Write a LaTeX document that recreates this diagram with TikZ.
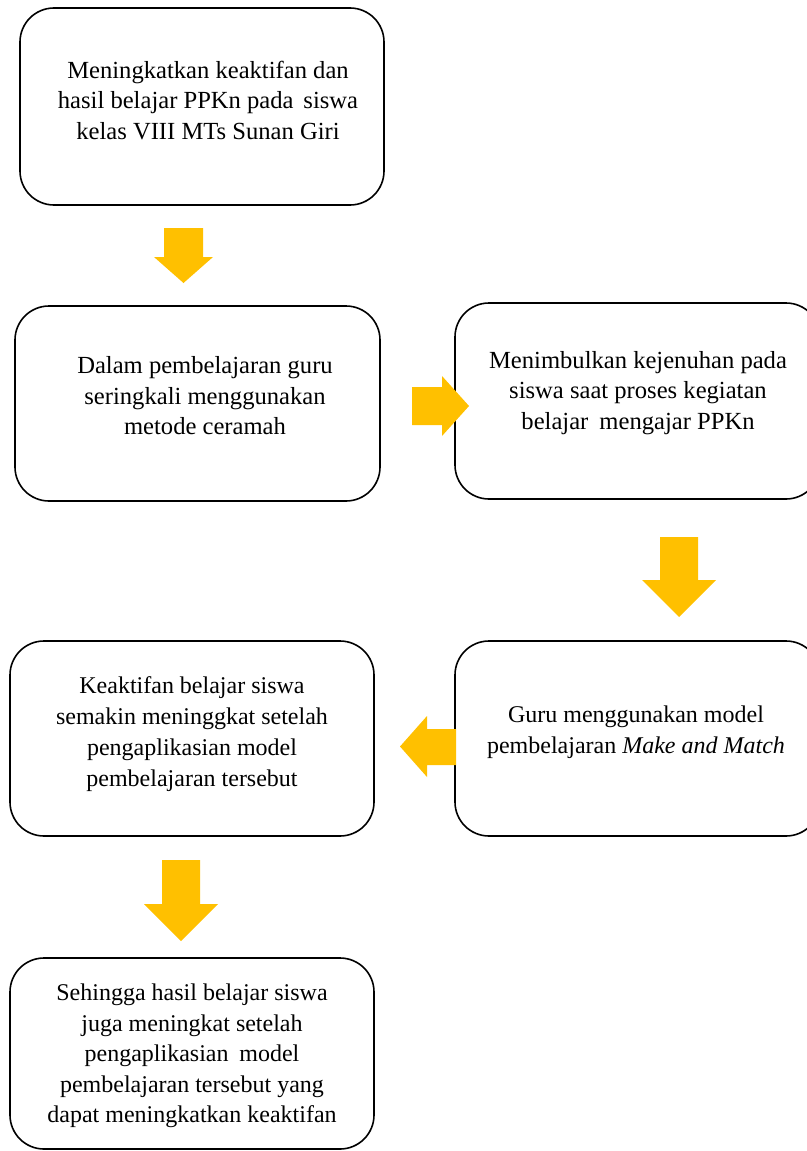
\documentclass[tikz,border=0pt]{standalone}
\usepackage{fontspec}
\setmainfont{Liberation Serif}
\definecolor{gold}{HTML}{FFC000}
\begin{document}
\begin{tikzpicture}[x=1pt,y=-1pt,
  box/.style={draw, line width=1.6pt, rounded corners=34pt, inner sep=0pt},
  txt/.style={align=center, font=\fontsize{24.6}{30.5}\selectfont, inner sep=0pt},
  txtb/.style={align=center, font=\fontsize{24}{31}\selectfont, inner sep=0pt},
  blk/.style={fill=gold, draw=none}]
\useasboundingbox (0,0) rectangle (806,1151);
% boxes
\node[box, minimum width=364pt, minimum height=197pt] (b1) at (202,106.5) {};
\node[box, minimum width=365pt, minimum height=195pt] (b2) at (197.5,403.5) {};
\node[box, minimum width=365pt, minimum height=196pt] (b3) at (637.5,401) {};
\node[box, minimum width=364pt, minimum height=195pt] (b4) at (192,738.5) {};
\node[box, minimum width=365pt, minimum height=195pt] (b5) at (637.5,738.5) {};
\node[box, minimum width=364pt, minimum height=191pt] (b6) at (192,1053.5) {};
% texts
\node[txt] (t1) at (208,100.5) {Meningkatkan keaktifan dan\\hasil belajar PPKn pada\hspace{0.4em}siswa\\kelas VIII MTs Sunan Giri};
\node[txt] (t2) at (205,396) {Dalam pembelajaran guru\\seringkali menggunakan\\metode ceramah};
\node[txt] (t3) at (638,393) {Menimbulkan kejenuhan pada\\siswa saat proses kegiatan\\belajar\hspace{0.45em}mengajar PPKn};
\node[txtb] (t4) at (192,734.5) {Keaktifan belajar siswa\\semakin meninggkat setelah\\pengaplikasian model\\pembelajaran tersebut};
\node[txtb] (t5) at (636,732.5) {Guru menggunakan model\\pembelajaran \textit{Make and Match}};
\node[txt, font=\fontsize{24}{30.5}\selectfont] (t6) at (192,1056) {Sehingga hasil belajar siswa\\juga meningkat setelah\\pengaplikasian\hspace{0.45em}model\\pembelajaran tersebut yang\\dapat meningkatkan keaktifan};
% block arrows
\fill[blk] (164,228) -- (203,228) -- (203,257) -- (213,257) -- (183.5,283) -- (154,257) -- (164,257) -- cycle;
\fill[blk] (412,387) -- (442,387) -- (442,376) -- (469,406) -- (442,436) -- (442,425) -- (412,425) -- cycle;
\fill[blk] (660,537) -- (698,537) -- (698,580) -- (716,580) -- (679,617) -- (642,580) -- (660,580) -- cycle;
\fill[blk] (456,729) -- (427,729) -- (427,716) -- (400,746.5) -- (427,777) -- (427,765) -- (456,765) -- cycle;
\fill[blk] (162,860) -- (200,860) -- (200,904) -- (218,904) -- (181,941) -- (144,904) -- (162,904) -- cycle;
\end{tikzpicture}
\end{document}
